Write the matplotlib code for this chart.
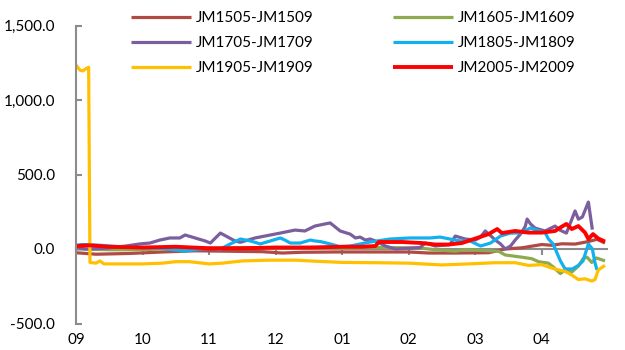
import matplotlib
matplotlib.use("Agg")
import matplotlib.pyplot as plt

plt.rcParams['font.family'] = ['Lato', 'DejaVu Sans']

month_labels = ['09', '10', '11', '12', '01', '02', '03', '04']
yticks = [-500, 0, 500, 1000, 1500]

names = ['JM1505-JM1509', 'JM1605-JM1609', 'JM1705-JM1709',
         'JM1805-JM1809', 'JM1905-JM1909', 'JM2005-JM2009']
colors = ['#B04A44', '#8DAA4F', '#7B5E9E', '#12B0EE', '#FFC000', '#FF0000']

# x positions in months after the start of September
x_1505 = [0, 0.3, 0.8, 1.3, 1.8, 2.3, 2.8, 3.1, 3.4, 3.9, 4.4, 5.0, 5.3, 5.7, 6.2,
          6.45, 6.7, 7.0, 7.15, 7.3, 7.5, 7.7, 7.83, 7.95]
y_1505 = [-25, -35, -30, -20, -12, -15, -18, -27, -22, -20, -20, -20, -27, -27, -25,
          0, 8, 30, 25, 35, 33, 50, 65, 40]

x_1605 = [0, 0.5, 1.0, 1.5, 2.0, 2.5, 3.0, 3.5, 4.0, 4.5, 5.0, 5.2, 5.4, 5.55, 5.7,
          5.85, 6.1, 6.35, 6.45, 6.7, 6.85, 6.95, 7.1, 7.17, 7.28, 7.35, 7.45, 7.55,
          7.62, 7.68, 7.75, 7.82, 7.95]
y_1605 = [0, -5, -5, 5, 5, 10, 8, 10, 5, 10, 8, 5, -5, -10, -15,
          -5, -10, -15, -40, -55, -65, -85, -95, -120, -165, -140, -155, -115,
          -65, -55, -90, -60, -80]

x_1705 = [0, 0.15, 0.45, 0.75, 0.96, 1.11, 1.26, 1.41, 1.56, 1.64, 1.79, 1.94, 2.02,
          2.17, 2.39, 2.47, 2.69, 2.84, 3.07, 3.29, 3.44, 3.59, 3.74, 3.82, 3.97,
          4.12, 4.20, 4.27, 4.35, 4.42, 4.50, 4.65, 4.80, 5.0, 5.17, 5.25, 5.40,
          5.62, 5.70, 5.85, 6.0, 6.08, 6.15, 6.23, 6.30, 6.38, 6.45, 6.53, 6.60,
          6.68, 6.75, 6.78, 6.83, 6.90, 7.05, 7.20, 7.28, 7.37, 7.43, 7.50, 7.55,
          7.61, 7.70, 7.76]
y_1705 = [10, 0, 5, 20, 34, 40, 60, 74, 74, 94, 74, 54, 40,
          107, 54, 45, 74, 87, 107, 127, 121, 154, 168, 175, 121,
          100, 74, 80, 60, 67, 54, 20, 0, 5, 10, 40, 20,
          30, 87, 67, 60, 80, 121, 90, 60, 34, 0, 20, 60,
          100, 150, 201, 168, 140, 121, 154, 125, 107, 175, 255, 200,
          215, 315, 130]

x_1805 = [0, 0.1, 0.36, 0.66, 0.96, 1.26, 1.56, 1.64, 1.86, 2.02, 2.17, 2.32, 2.47,
          2.62, 2.77, 2.92, 3.07, 3.14, 3.22, 3.37, 3.52, 3.59, 3.67, 3.82, 3.97,
          4.12, 4.42, 4.72, 5.02, 5.32, 5.47, 5.62, 5.77, 5.92, 6.08, 6.23, 6.38,
          6.53, 6.68, 6.83, 6.90, 7.05, 7.10, 7.17, 7.28, 7.35, 7.46, 7.55, 7.62,
          7.70, 7.76, 7.80, 7.83]
y_1805 = [25, 30, 25, 15, 10, 5, -10, -15, 0, 5, 0, 34, 67,
          54, 34, 54, 74, 60, 40, 40, 60, 54, 50, 34, 15,
          20, 47, 67, 74, 74, 80, 67, 54, 54, 20, 40, 87,
          107, 107, 141, 130, 110, 67, 34, -80, -134, -134, -110, -80,
          34, 0, -94, -141]

x_1905 = [0, 0.06, 0.1, 0.15, 0.19, 0.21, 0.3, 0.36, 0.42, 1.0, 1.3, 1.5, 1.7, 2.0,
          2.2, 2.5, 2.9, 3.3, 3.6, 4.0, 4.5, 5.0, 5.5, 5.9, 6.3, 6.6, 6.8, 7.0,
          7.2, 7.35, 7.45, 7.55, 7.65, 7.75, 7.8, 7.85, 7.95]
y_1905 = [1235, 1200, 1195, 1210, 1220, -90, -95, -80, -100, -100, -95, -85, -85, -100,
          -95, -80, -75, -75, -82, -90, -92, -95, -107, -100, -92, -92, -110, -105,
          -135, -150, -175, -205, -200, -215, -205, -140, -110]

x_2005 = [0, 0.2, 0.5, 1.0, 1.5, 2.0, 2.5, 3.0, 3.5, 4.0, 4.3, 4.5, 4.55, 4.9, 5.2,
          5.4, 5.6, 5.8, 6.0, 6.2, 6.33, 6.4, 6.6, 6.8, 7.0, 7.2, 7.3, 7.37, 7.45,
          7.55, 7.65, 7.7, 7.77, 7.85, 7.95]
y_2005 = [20, 25, 15, 10, 15, 5, 5, 10, 10, 15, 15, 20, 47, 47, 40,
          30, 30, 40, 70, 100, 134, 107, 121, 110, 110, 121, 150, 168, 134,
          154, 110, 67, 100, 70, 50]

series = [(x_1505, y_1505), (x_1605, y_1605), (x_1705, y_1705),
          (x_1805, y_1805), (x_1905, y_1905), (x_2005, y_2005)]
widths = [2.3, 2.3, 2.3, 2.3, 2.3, 2.8]

fig = plt.figure(figsize=(6.25, 3.5), dpi=100)
ax = fig.add_axes([76 / 625, 1 - 323.5 / 350, (607 - 76) / 625, (323.5 - 25.5) / 350])

handles = []
for (xs, ys), name, c, w in zip(series, names, colors, widths):
    h, = ax.plot(xs, ys, color=c, lw=w, label=name, solid_joinstyle='round',
                 solid_capstyle='butt')
    handles.append(h)

ax.set_xlim(0, 7.98)
ax.set_ylim(-500, 1500)

axis_color = '#8C8C8C'
for s in ['top', 'right']:
    ax.spines[s].set_visible(False)
ax.spines['left'].set_color(axis_color)
ax.spines['left'].set_linewidth(1.5)
ax.spines['bottom'].set_position(('data', 0))
ax.spines['bottom'].set_color(axis_color)
ax.spines['bottom'].set_linewidth(1.5)
ax.spines['bottom'].set_zorder(1)

ax.set_yticks(yticks)
ax.set_yticklabels([f"{v:,.1f}" for v in yticks])
ax.tick_params(axis='y', direction='in', length=4, width=1.5, color=axis_color,
               labelsize=11, pad=15, labelcolor='#000000')

ax.set_xticks(range(len(month_labels)))
ax.tick_params(axis='x', direction='out', length=4, width=1.5, color=axis_color,
               labelbottom=False)

sec = ax.secondary_xaxis('bottom')
sec.set_xticks(range(len(month_labels)))
sec.set_xticklabels(month_labels)
sec.tick_params(axis='x', length=0, labelsize=11, pad=7, labelcolor='#000000')
sec.spines['bottom'].set_visible(False)

# legend filled row by row (two columns)
order = [0, 2, 4, 1, 3, 5]
fig.legend(handles=[handles[i] for i in order], labels=[names[i] for i in order],
           ncol=2, loc='upper left',
           bbox_to_anchor=(131 / 625, 1 - 11 / 350), frameon=False,
           fontsize=11, handlelength=3.9, handletextpad=0.35, columnspacing=5.2,
           labelspacing=0.72, borderpad=0, borderaxespad=0)

fig.savefig('out.png', dpi=100)
